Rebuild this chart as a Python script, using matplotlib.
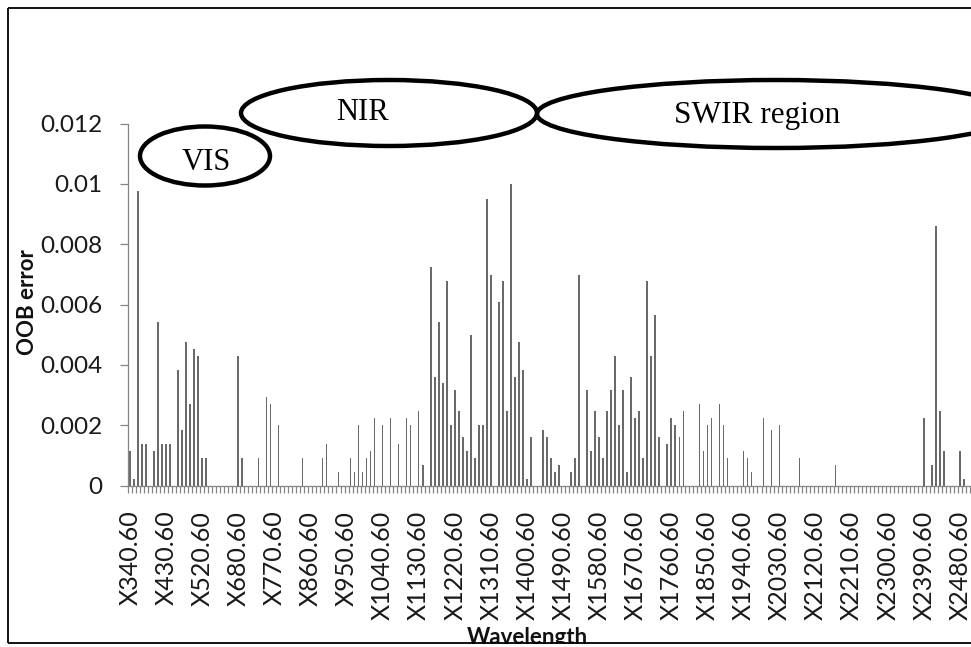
import matplotlib
matplotlib.use("Agg")
import matplotlib.pyplot as plt
import numpy as np
from matplotlib.patches import Ellipse, Rectangle
from matplotlib.lines import Line2D

# ---------------- data ----------------
# wavelength bands (nm); bands 530-590 were removed in the source data
wavelengths = [340.6 + 10 * k for k in range(19)] + [600.6 + 10 * k for k in range(191)]
category_labels = ["X%.2f" % w for w in wavelengths]

# OOB error per band, in thousandths (x 0.001)
oob_error_milli = [
    1.14, 0.23, 9.76, 1.37, 1.37, 0, 1.14, 5.44, 1.37, 1.37,
    1.37, 0, 3.84, 1.84, 4.77, 2.70, 4.54, 4.31, 0.92, 0.92,
    0, 0, 0, 0, 0, 0, 0, 4.31, 0.92, 0,
    0, 0, 0.92, 0, 2.93, 2.70, 0, 2.02, 0, 0,
    0, 0, 0, 0.92, 0, 0, 0, 0, 0.92, 1.37,
    0, 0, 0.45, 0, 0, 0.92, 0.45, 2.02, 0.45, 0.92,
    1.14, 2.25, 0, 2.02, 0, 2.25, 0, 1.37, 0, 2.25,
    2.02, 0, 2.47, 0.69, 0, 7.23, 3.61, 5.44, 3.39, 6.77,
    2.02, 3.16, 2.47, 1.61, 1.14, 4.99, 0.92, 2.02, 2.02, 9.51,
    6.99, 0, 6.09, 6.77, 2.47, 9.98, 3.61, 4.77, 3.84, 0.23,
    1.61, 0, 0, 1.83, 1.61, 0.92, 0.45, 0.69, 0, 0,
    0.45, 0.92, 6.99, 0, 3.16, 1.14, 2.47, 1.61, 0.92, 2.47,
    3.16, 4.31, 2.02, 3.16, 0.45, 3.61, 2.25, 2.47, 0.92, 6.77,
    4.31, 5.67, 1.61, 0, 1.37, 2.25, 2.02, 1.61, 2.47, 0,
    0, 0, 2.70, 1.14, 2.02, 2.25, 0, 2.70, 2.02, 0.92,
    0, 0, 0, 1.14, 0.92, 0.45, 0, 0, 2.25, 0,
    1.83, 0, 2.02, 0, 0, 0, 0, 0.92, 0, 0,
    0, 0, 0, 0, 0, 0, 0.69, 0, 0, 0,
    0, 0, 0, 0, 0, 0, 0, 0, 0, 0,
    0, 0, 0, 0, 0, 0, 0, 0, 2.25, 0,
    0.69, 8.62, 2.47, 1.14, 0, 0, 0, 1.14, 0.23, 0,
]
oob_error = np.array(oob_error_milli) / 1000.0

y_ticks = [0, 0.002, 0.004, 0.006, 0.008, 0.01, 0.012]
y_tick_labels = ["0", "0.002", "0.004", "0.006", "0.008", "0.01", "0.012"]

region_labels = ["VIS", "NIR", "SWIR region"]

# ---------------- figure ----------------
W, H = 971, 647
fig = plt.figure(figsize=(W / 100, H / 100), dpi=100)
fig.patch.set_facecolor("white")

sans = ["Lato", "DejaVu Sans"]
axis_grey = "#868686"

ax_left, ax_right, ax_top, ax_bottom = 128, 970, 123.5, 485.7
ax = fig.add_axes([ax_left / W, 1 - ax_bottom / H, (ax_right - ax_left) / W, (ax_bottom - ax_top) / H])
n = len(wavelengths)
x = np.arange(n)
ax.bar(x, oob_error, width=0.4, color="#6a6a6a", linewidth=0)
ax.set_xlim(-0.5, n - 0.5)
ax.set_ylim(0, 0.012)

for s in ["top", "right"]:
    ax.spines[s].set_visible(False)
for s in ["left", "bottom"]:
    ax.spines[s].set_color(axis_grey)
    ax.spines[s].set_linewidth(0.9)

ax.set_yticks(y_ticks)
ax.set_yticklabels(y_tick_labels, fontfamily=sans, fontsize=17.5, color="#1a1a1a")
ax.tick_params(axis="y", direction="out", length=6, width=0.9, color=axis_grey, pad=12.5)

ax.set_xticks(x[::9])
ax.set_xticklabels(category_labels[::9], rotation=90, fontfamily=sans, fontsize=18, color="#1a1a1a")
ax.set_xticks(np.arange(-0.5, n, 1), minor=True)
ax.tick_params(axis="x", which="major", length=0, pad=18)
ax.tick_params(axis="x", which="minor", direction="out", length=5, width=0.9, color=axis_grey)

# ---------------- overlay (pixel coordinates) ----------------
ov = fig.add_axes([0, 0, 1, 1], zorder=5)
ov.set_xlim(0, W)
ov.set_ylim(H, 0)
ov.axis("off")
ov.patch.set_alpha(0)

ov.text(27, 302, "OOB error", rotation=90, ha="center", va="center",
        fontfamily=sans, fontweight="bold", fontsize=16, color="#111111")
ov.text(527, 637, "Wavelength", ha="center", va="center",
        fontfamily=sans, fontweight="bold", fontsize=16, color="#111111")

ell_kw = dict(fill=False, edgecolor="black", linewidth=3.2)
ov.add_patch(Ellipse((205, 156), 130, 59, **ell_kw))
ov.add_patch(Ellipse((389, 113), 296, 66, **ell_kw))
ov.add_patch(Ellipse((776, 114), 478, 68, **ell_kw))

serif = ["Liberation Serif", "DejaVu Serif"]
ov.text(206, 163, region_labels[0], ha="center", va="center", fontfamily=serif, fontsize=22)
ov.text(362, 113, region_labels[1], ha="center", va="center", fontfamily=serif, fontsize=22)
ov.text(757, 116, region_labels[2], ha="center", va="center", fontfamily=serif, fontsize=22.5)

# outer border (right side cropped in the reference)
ov.add_patch(Rectangle((0, 643.5), W, H - 643.5, facecolor="white", edgecolor="none", zorder=6))
bk = dict(color="black", linewidth=1.3, zorder=7, solid_capstyle="butt")
ov.add_line(Line2D([8, 8], [8, 643], **bk))
ov.add_line(Line2D([8, W], [8, 8], **bk))
ov.add_line(Line2D([8, W], [643, 643], **bk))

fig.savefig("out.png", dpi=100)
